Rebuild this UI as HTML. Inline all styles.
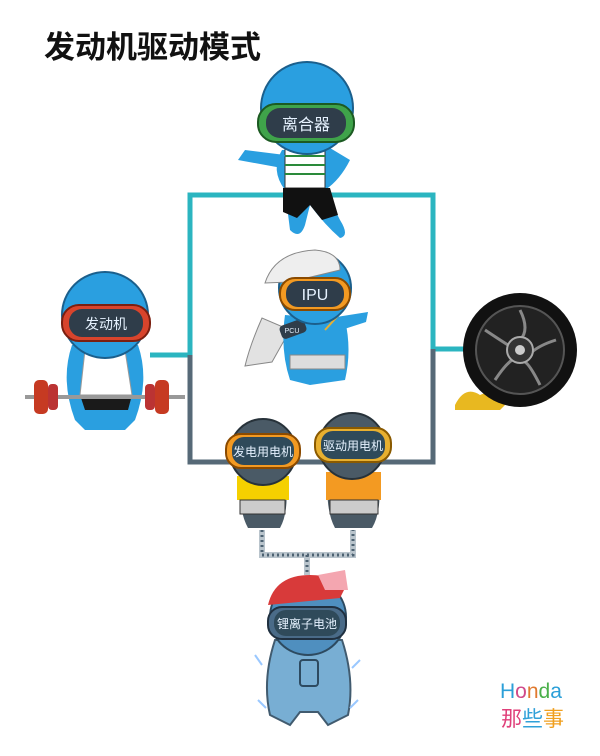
<!DOCTYPE html>
<html><head><meta charset="utf-8"><style>
html,body{margin:0;padding:0;background:#fff;}
svg{display:block}
text{font-family:"Liberation Sans","Noto Sans CJK SC",sans-serif}
</style></head><body>
<svg width="600" height="756" viewBox="0 0 600 756" xmlns="http://www.w3.org/2000/svg">
<text x="44" y="58" font-size="31" font-weight="bold" fill="#111" font-family="Liberation Sans, Noto Sans CJK SC, sans-serif">发动机驱动模式</text>

<!-- connectors -->
<path d="M150 355 H190 V195 H433 V349 H464" fill="none" stroke="#2bb5c0" stroke-width="5"/>
<path d="M190 355 V462 H433 V349" fill="none" stroke="#566977" stroke-width="5"/>
<g fill="none" stroke="#b9c4cc" stroke-width="6">
<path d="M262 530 V555 H353 V530 M307 555 V575"/>
</g>
<g fill="none" stroke="#4d6272" stroke-width="3" stroke-dasharray="2 3">
<path d="M262 530 V555 H353 V530 M307 555 V575"/>
</g>

<!-- clutch character -->
<g>
<path d="M282 150 Q270 170 285 190 L290 230 Q300 240 305 225 L310 205 Q325 225 340 238 Q350 236 340 220 L325 190 Q340 180 350 160 L330 148 Z" fill="#2a9fe0"/>
<rect x="285" y="148" width="40" height="40" fill="#fff" stroke="#333"/>
<g stroke="#2a8a3a" stroke-width="2"><line x1="285" y1="156" x2="325" y2="156"/><line x1="285" y1="165" x2="325" y2="165"/><line x1="285" y1="174" x2="325" y2="174"/></g>
<path d="M283 188 H330 L338 215 L322 220 L310 205 L297 218 L283 212 Z" fill="#111"/>
<path d="M285 155 L245 150 L238 160 L282 168 Z" fill="#2a9fe0"/>
<circle cx="307" cy="108" r="46" fill="#2a9fe0" stroke="#1b5f8c" stroke-width="2"/>
<rect x="258" y="104" width="96" height="38" rx="18" fill="#3fa34a" stroke="#1c5a22" stroke-width="2"/>
<rect x="266" y="108" width="80" height="30" rx="14" fill="#2f3d4a"/>
<text x="306" y="130" font-size="16" fill="#e6f2ff" text-anchor="middle">离合器</text>
</g>

<!-- engine character -->
<g>
<path d="M72 345 Q60 380 75 420 L85 430 L125 430 L135 420 Q150 380 138 345 Z" fill="#2a9fe0"/>
<path d="M85 350 L125 350 L132 395 L80 395 Z" fill="#fff" stroke="#999"/>
<path d="M80 395 H132 L128 410 H85 Z" fill="#1a1a1a"/>
<line x1="25" y1="397" x2="185" y2="397" stroke="#999" stroke-width="4"/>
<rect x="34" y="380" width="14" height="34" rx="5" fill="#c63a22"/>
<rect x="48" y="384" width="10" height="26" rx="4" fill="#b33"/>
<rect x="145" y="384" width="10" height="26" rx="4" fill="#b33"/>
<rect x="155" y="380" width="14" height="34" rx="5" fill="#c63a22"/>
<circle cx="105" cy="315" r="43" fill="#2a9fe0" stroke="#1b5f8c" stroke-width="2"/>
<rect x="62" y="305" width="88" height="36" rx="17" fill="#d8442c" stroke="#7a1f10" stroke-width="2"/>
<rect x="69" y="309" width="74" height="28" rx="13" fill="#2f3d4a"/>
<text x="106" y="329" font-size="14" fill="#e6f2ff" text-anchor="middle">发动机</text>
</g>

<!-- IPU -->
<g>
<path d="M262 318 Q250 345 245 366 L272 362 L290 330 Z" fill="#e2e2e2" stroke="#888"/>
<path d="M285 315 Q280 350 290 380 L310 385 L345 380 Q352 350 345 320 Z" fill="#2a9fe0"/>
<rect x="290" y="355" width="55" height="14" fill="#ddd" stroke="#888"/>
<path d="M330 318 L368 312 L366 322 L335 332 Z" fill="#2a9fe0"/>
<line x1="325" y1="330" x2="345" y2="308" stroke="#e8b030" stroke-width="2"/>
<rect x="280" y="322" width="26" height="14" rx="4" fill="#2f3d4a" transform="rotate(-20 293 329)"/>
<text x="292" y="333" font-size="7" fill="#e6f2ff" text-anchor="middle">PCU</text>
<circle cx="315" cy="288" r="36" fill="#2a9fe0" stroke="#1b5f8c" stroke-width="2"/>
<path d="M265 283 Q275 252 315 250 Q340 252 340 270 L290 282 Z" fill="#eee" stroke="#888"/>
<rect x="280" y="278" width="70" height="32" rx="15" fill="#f39a22" stroke="#8a4a00" stroke-width="2"/>
<rect x="286" y="281" width="58" height="26" rx="12" fill="#2f3d4a"/>
<text x="315" y="300" font-size="16" fill="#e6f2ff" text-anchor="middle">IPU</text>
</g>

<!-- generator -->
<g>
<path d="M240 475 L285 475 Q290 510 280 528 L248 528 Q238 510 240 475 Z" fill="#4a5a66"/>
<rect x="237" y="476" width="52" height="24" fill="#f5d000"/>
<rect x="240" y="500" width="45" height="14" fill="#ccc" stroke="#333"/>
<circle cx="263" cy="452" r="33" fill="#4a5a66" stroke="#27323a" stroke-width="2"/>
<rect x="226" y="434" width="74" height="34" rx="15" fill="#f39a22" stroke="#8a4a00" stroke-width="2"/>
<rect x="232" y="437" width="62" height="28" rx="12" fill="#2f4a5a"/>
<text x="263" y="456" font-size="12" fill="#e6f2ff" text-anchor="middle">发电用电机</text>
</g>
<!-- drive motor -->
<g>
<path d="M328 472 L378 472 Q383 510 372 528 L335 528 Q325 510 328 472 Z" fill="#4a5a66"/>
<rect x="326" y="472" width="55" height="28" fill="#f39a22"/>
<rect x="330" y="500" width="48" height="14" fill="#ccc" stroke="#333"/>
<circle cx="352" cy="446" r="33" fill="#4a5a66" stroke="#27323a" stroke-width="2"/>
<rect x="315" y="428" width="76" height="34" rx="15" fill="#e8b030" stroke="#8a5a00" stroke-width="2"/>
<rect x="321" y="431" width="64" height="28" rx="12" fill="#2f4a5a"/>
<text x="353" y="450" font-size="12" fill="#e6f2ff" text-anchor="middle">驱动用电机</text>
</g>

<!-- battery -->
<g>
<path d="M275 640 Q262 680 270 715 L290 725 L300 712 L318 712 L328 725 L348 715 Q355 680 342 640 Z" fill="#6aa6cf" stroke="#2d4a60" stroke-width="2" opacity="0.9"/>
<rect x="300" y="660" width="18" height="26" rx="3" fill="none" stroke="#2d4a60" stroke-width="2"/>
<path d="M255 655 L262 665 M258 700 L266 708 M360 660 L352 668 M358 700 L350 708" stroke="#9ac8ff" stroke-width="2"/>
<circle cx="308" cy="617" r="38" fill="#4f8fbf" stroke="#2d4a60" stroke-width="2"/>
<path d="M268 605 Q275 575 310 575 Q335 575 345 588 L340 598 Z" fill="#d83a3a"/>
<path d="M318 575 L345 570 L348 590 L325 590 Z" fill="#f4a6b0"/>
<rect x="268" y="607" width="78" height="32" rx="14" fill="#4a6b88" stroke="#203040" stroke-width="2"/>
<rect x="274" y="610" width="66" height="26" rx="12" fill="#2f4a5a"/>
<text x="307" y="628" font-size="12" fill="#e6f2ff" text-anchor="middle">锂离子电池</text>
</g>

<!-- wheel -->
<g>
<path d="M455 405 Q465 385 480 395 Q495 388 505 405 L500 410 L455 410 Z" fill="#e8b820"/>
<circle cx="520" cy="350" r="57" fill="#111"/>
<circle cx="520" cy="350" r="44" fill="#222" stroke="#555" stroke-width="2"/>
<g stroke="#888" stroke-width="3" fill="none">
<path d="M520 310 Q530 330 520 340 M556 340 Q540 345 532 352 M540 385 Q530 365 525 362 M495 380 Q505 365 512 360 M485 330 Q500 340 508 345"/>
</g>
<circle cx="520" cy="350" r="13" fill="#333" stroke="#aaa" stroke-width="2"/>
<circle cx="520" cy="350" r="5" fill="#ccc"/>
</g>

<!-- logo -->
<text x="500" y="698" font-size="21" fill="#2b9fd8">H<tspan fill="#d04a8a">o</tspan><tspan fill="#e07a30">n</tspan><tspan fill="#4ab04a">d</tspan><tspan fill="#2b9fd8">a</tspan></text>
<text x="501" y="726" font-size="21" fill="#e0407a" font-family="Liberation Sans, Noto Sans CJK SC, sans-serif">那<tspan fill="#30a0d8">些</tspan><tspan fill="#f0a020">事</tspan></text>
</svg>
</body></html>
